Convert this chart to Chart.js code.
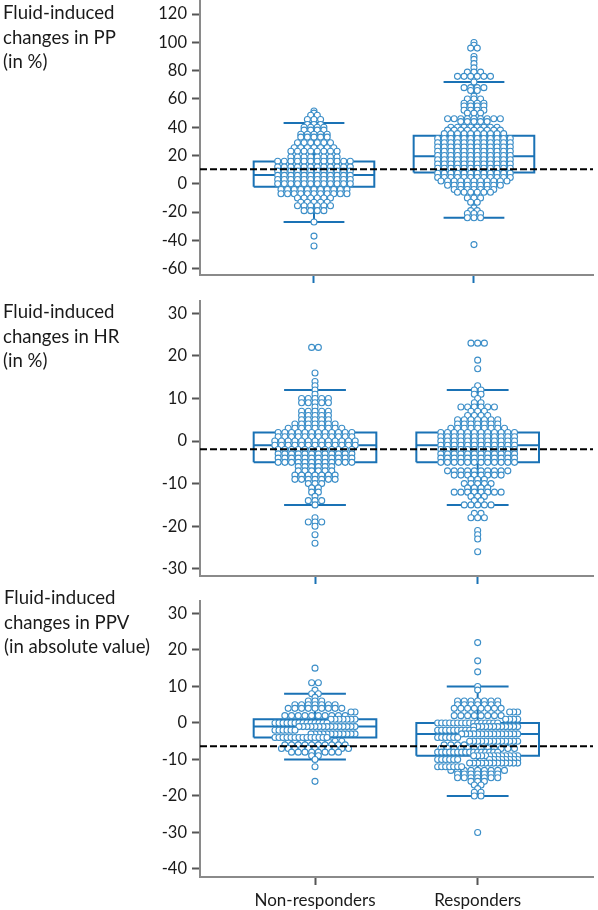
<!DOCTYPE html>
<html>
<head>
<meta charset="utf-8">
<script src="https://cdn.jsdelivr.net/npm/chart.js@4"></script>
<style>
  html, body { margin: 0; background: #fff; }
  #page { position: relative; width: 598px; height: 910px; overflow: hidden; }
  canvas { position: absolute; left: 0; }
  .label { position: absolute; font: 18.6px/24.5px Lato, sans-serif; color: #1a1a1a; white-space: nowrap; }
</style>
</head>
<body>
<div id="page">
  <canvas id="ppChart" width="598" height="295" style="top:0"></canvas>
  <canvas id="hrChart" width="598" height="300" style="top:295px"></canvas>
  <canvas id="ppvChart" width="598" height="315" style="top:595px"></canvas>
  <div class="label" style="left:3px;top:0px">Fluid-induced<br>changes in PP<br>(in %)</div>
  <div class="label" style="left:3px;top:299px">Fluid-induced<br>changes in HR<br>(in %)</div>
  <div class="label" style="left:4px;top:585px">Fluid-induced<br>changes in PPV<br>(in absolute value)</div>
</div>
<script>
const groups = ['Non-responders', 'Responders'];

// PP panel: value of each row of dots and how many dots the row has
const ppNonValues = [51.5, 50, 48.5, 45.5, 42, 40, 38, 35, 33, 29, 25.5, 23, 19, 16, 12, 9, 6, 3, 0, -4, -7, -10, -13, -15.5, -19, -27, -37, -44];
const ppNonCounts = [1, 1, 2, 3, 3, 4, 4, 5, 5, 6, 7, 8, 8, 12, 12, 12, 12, 12, 12, 11, 11, 6, 5, 6, 4, 1, 1, 1];
const ppRespValues = [100, 98, 96, 90, 88, 85, 82, 79, 76, 72, 68, 66, 62, 60, 57, 55, 52, 50, 46, 44, 40, 38, 35.5, 32, 29, 26, 23, 20, 17, 14, 11, 7.5, 4.5, 2, -1, -4, -6, -10, -13, -17, -19, -21, -24, -43];
const ppRespCounts = [1, 1, 2, 1, 1, 1, 1, 3, 6, 1, 4, 2, 1, 3, 4, 4, 4, 3, 9, 5, 8, 9, 10, 12, 12, 12, 12, 12, 12, 12, 12, 12, 12, 11, 9, 7, 6, 3, 2, 1, 2, 3, 3, 1];

// HR panel
const hrNonValues = [22, 16, 14, 13, 12, 11, 10, 9, 8, 7, 6, 5, 4, 3, 2, 1, 0, -1, -2, -3, -4, -5, -6, -7, -8, -9, -10, -11, -12, -13, -14, -15, -18, -19, -20, -22, -24];
const hrNonCounts = [2, 1, 1, 1, 1, 1, 5, 5, 1, 5, 5, 5, 7, 9, 12, 12, 13, 13, 12, 12, 12, 12, 6, 6, 7, 7, 3, 2, 2, 1, 3, 1, 1, 3, 1, 1, 1];
const hrRespValues = [23, 19, 17, 13, 12, 11, 10, 9, 8, 7, 6, 5, 4, 3, 2, 1, 0, -1, -2, -3, -4, -5, -7, -8, -9, -10, -11, -12, -13, -14, -15, -17, -18, -21, -22, -23, -26];
const hrRespCounts = [3, 1, 1, 1, 2, 2, 1, 2, 6, 3, 4, 7, 7, 9, 12, 12, 12, 12, 12, 12, 12, 12, 10, 8, 3, 5, 4, 8, 3, 2, 5, 2, 3, 1, 1, 1, 1];

// PPV panel: tight rows pile up from one side, so each value has left, middle and right counts
const ppvNonValues = [15, 11, 9, 8, 7, 6, 5, 4, 3, 2, 1, 0, -1, -2, -3, -4, -5, -6, -7, -8, -9, -10, -12, -16];
const ppvNonLeft = [0, 0, 0, 0, 0, 0, 0, 0, 0, 0, 0, 14, 0, 6, 0, 14, 0, 0, 0, 0, 0, 0, 0, 0];
const ppvNonMid = [1, 2, 1, 2, 1, 3, 7, 9, 0, 10, 0, 0, 0, 0, 0, 0, 9, 10, 11, 8, 2, 1, 1, 1];
const ppvNonRight = [0, 0, 0, 0, 0, 0, 0, 0, 2, 0, 7, 0, 15, 0, 12, 0, 0, 0, 0, 0, 0, 0, 0, 0];
const ppvRespValues = [22, 17, 14, 10, 9, 6, 5, 4, 3, 2, 1, 0, -1, -2, -3, -4, -5, -6, -7, -8, -9, -10, -11, -12, -13, -14, -15, -16, -17, -18, -19, -20, -30];
const ppvRespLeft = [0, 0, 0, 0, 0, 0, 0, 0, 0, 0, 0, 16, 0, 10, 0, 6, 0, 0, 0, 16, 0, 6, 0, 7, 0, 0, 0, 0, 0, 0, 0, 0, 0];
const ppvRespMid = [1, 1, 1, 1, 1, 7, 7, 8, 0, 8, 0, 0, 0, 0, 0, 0, 0, 11, 12, 0, 0, 0, 0, 0, 9, 7, 7, 3, 2, 1, 2, 2, 1];
const ppvRespRight = [0, 0, 0, 0, 0, 0, 0, 0, 3, 0, 4, 0, 12, 0, 15, 0, 13, 0, 0, 0, 12, 8, 13, 0, 0, 0, 0, 0, 0, 0, 0, 0, 0];

// box summaries: low whisker, q1, median, q3, high whisker
const ppNonBox = [-27, -2, 6.3, 15.7, 43];
const ppRespBox = [-24, 8, 19.5, 34, 72];
const hrNonBox = [-15, -5, -1, 2, 12];
const hrRespBox = [-15, -5, -1, 2, 12];
const ppvNonBox = [-10, -4, -1, 1, 8];
const ppvRespBox = [-20, -9, -3, 0, 10];

// dashed reference values
const ppCut = 10.3;
const hrCut = -1.9;
const ppvCut = -6.4;

const boxColor = '#1a72b5';
const dotColor = '#3b8ec8';

// one row of dots, spread symmetrically around the group's centre
function swarm(center, values, counts, step) {
    const points = [];
    values.forEach((v, i) => {
        for (let k = 0; k < counts[i]; k++) {
            points.push({ x: center + (k - (counts[i] - 1) / 2) * step, y: v });
        }
    });
    return points;
}

// rows that start from the left or right edge of the swarm and overlap tightly
function edgeSwarm(center, values, left, right, halfWidth, step) {
    const points = [];
    values.forEach((v, i) => {
        for (let k = 0; k < left[i]; k++) points.push({ x: center - halfWidth + k * step, y: v });
        for (let k = 0; k < right[i]; k++) points.push({ x: center + halfWidth - k * step, y: v });
    });
    return points;
}

// box outline, median and whiskers as a single broken line
function boxPath(c, b, boxHalf, capHalf) {
    const gap = { x: NaN, y: NaN };
    return [
        { x: c - boxHalf, y: b[1] }, { x: c + boxHalf, y: b[1] }, { x: c + boxHalf, y: b[3] },
        { x: c - boxHalf, y: b[3] }, { x: c - boxHalf, y: b[1] }, gap,
        { x: c - boxHalf, y: b[2] }, { x: c + boxHalf, y: b[2] }, gap,
        { x: c, y: b[3] }, { x: c, y: b[4] }, gap,
        { x: c - capHalf, y: b[4] }, { x: c + capHalf, y: b[4] }, gap,
        { x: c, y: b[1] }, { x: c, y: b[0] }, gap,
        { x: c - capHalf, y: b[0] }, { x: c + capHalf, y: b[0] }
    ];
}

function makePanel(id, p) {
    const pxPerUnit = 393 / (p.xMax - p.xMin);
    const step = p.dotStep / pxPerUnit;
    const lineSet = (data, order, color, width, dash) => ({
        data, order, showLine: true, borderColor: color, borderWidth: width,
        borderDash: dash || [], pointRadius: 0, fill: false, spanGaps: false
    });
    const dotSet = (data) => ({
        data, order: 1, showLine: false, pointRadius: 3, pointBorderWidth: 1.1,
        pointBorderColor: dotColor, pointBackgroundColor: '#fff'
    });
    const nonDots = swarm(1, p.nonValues, p.nonCounts, step);
    const respDots = swarm(2, p.respValues, p.respCounts, step);
    if (p.nonLeft) {
        nonDots.push(...edgeSwarm(1, p.nonValues, p.nonLeft, p.nonRight, 40 / pxPerUnit, 4 / pxPerUnit));
        respDots.push(...edgeSwarm(2, p.respValues, p.respLeft, p.respRight, 40 / pxPerUnit, 4 / pxPerUnit));
    }
    new Chart(document.getElementById(id), {
        type: 'scatter',
        data: {
            datasets: [
                lineSet([{ x: p.xMin, y: p.cut }, { x: p.xMax, y: p.cut }], 0, '#000', 2, [7, 3]),
                dotSet(nonDots),
                dotSet(respDots),
                lineSet(boxPath(1, p.nonBox, 0.377, 0.19), 2, boxColor, 2),
                lineSet(boxPath(2, p.respBox, 0.377, 0.19), 2, boxColor, 2)
            ]
        },
        options: {
            responsive: false,
            animation: false,
            layout: { autoPadding: false, padding: { top: p.padTop, right: 5, left: 0, bottom: 0 } },
            plugins: { legend: { display: false }, tooltip: { enabled: false } },
            scales: {
                x: {
                    type: 'linear',
                    min: p.xMin,
                    max: p.xMax,
                    afterBuildTicks: (axis) => { axis.ticks = [{ value: 1 }, { value: 2 }]; },
                    afterFit: (axis) => {
                        axis.height = p.xHeight;
                        axis.paddingLeft = 0;
                        axis.paddingRight = 0;
                    },
                    border: { color: '#8a8a8a', width: 2 },
                    grid: { drawOnChartArea: false, tickLength: 8, tickWidth: 2, tickColor: p.xTickColor },
                    ticks: {
                        autoSkip: false,
                        maxRotation: 0,
                        padding: 5,
                        color: '#1a1a1a',
                        font: { family: 'Lato', size: 17 },
                        callback: (v) => (p.showGroups ? groups[v - 1] : '')
                    }
                },
                y: {
                    min: p.yMin,
                    max: p.yMax,
                    // no extra margin for the end labels, the axis has to start at the canvas top
                    afterFit: (axis) => {
                        axis.width = 200;
                        axis.paddingTop = 0;
                        axis.paddingBottom = 0;
                    },
                    border: { color: '#8a8a8a', width: 2 },
                    grid: { drawOnChartArea: false, tickLength: 8, tickWidth: 2, tickColor: '#555' },
                    ticks: {
                        stepSize: p.yStep,
                        includeBounds: false,
                        padding: 5,
                        color: '#1a1a1a',
                        font: { family: 'Lato', size: 16.5 }
                    }
                }
            }
        }
    });
}

makePanel('ppChart', {
    nonValues: ppNonValues, nonCounts: ppNonCounts, respValues: ppRespValues, respCounts: ppRespCounts,
    nonBox: ppNonBox, respBox: ppRespBox, cut: ppCut,
    xMin: 0.2875, xMax: 2.744, yMin: -64.5, yMax: 129.3, yStep: 20,
    padTop: 1, xHeight: 20, xTickColor: boxColor, showGroups: false, dotStep: 6.6
});
makePanel('hrChart', {
    nonValues: hrNonValues, nonCounts: hrNonCounts, respValues: hrRespValues, respCounts: hrRespCounts,
    nonBox: hrNonBox, respBox: hrRespBox, cut: hrCut,
    xMin: 0.293, xMax: 2.709, yMin: -31.7, yMax: 32.9, yStep: 10,
    padTop: 6, xHeight: 19, xTickColor: boxColor, showGroups: false, dotStep: 6.7
});
makePanel('ppvChart', {
    nonValues: ppvNonValues, nonCounts: ppvNonMid, nonLeft: ppvNonLeft, nonRight: ppvNonRight,
    respValues: ppvRespValues, respCounts: ppvRespMid, respLeft: ppvRespLeft, respRight: ppvRespRight,
    nonBox: ppvNonBox, respBox: ppvRespBox, cut: ppvCut,
    xMin: 0.293, xMax: 2.709, yMin: -42.2, yMax: 33.4, yStep: 10,
    padTop: 6, xHeight: 33, xTickColor: '#555', showGroups: true, dotStep: 6.7
});
</script>
</body>
</html>
